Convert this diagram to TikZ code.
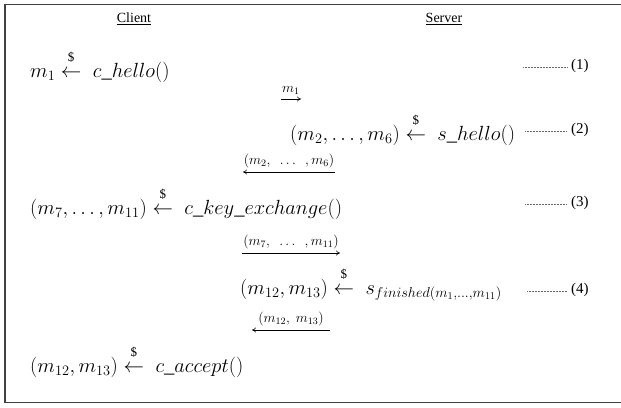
\RequirePackage{fix-cm}
\documentclass[tikz,border=0pt]{standalone}
\usepackage{amsmath}
\usepackage{fontspec}
\setmainfont{Liberation Serif}
\usetikzlibrary{arrows.meta}
\newcommand{\rnd}{\mathrel{\overset{\raisebox{4pt}{\fontsize{13}{13}\selectfont\$}}{\leftarrow}\;}}
\begin{document}
\begin{tikzpicture}[x=1pt,y=-1pt,
  formula/.style={anchor=base west, inner sep=0pt, font=\fontsize{20.5}{24}\selectfont},
  msg/.style={inner sep=0pt, font=\fontsize{14}{16}\selectfont},
  hdr/.style={inner sep=0pt, font=\fontsize{14}{16}\selectfont},
  num/.style={anchor=west, inner sep=0pt, font=\fontsize{15}{17}\selectfont},
  leader/.style={dash pattern=on 0.5pt off 1pt, line width=0.6pt, black!60},
  flow/.style={-{To[length=4pt,width=5pt]}, line width=0.6pt},
  frame/.style={line width=1.4pt, black!75}]
\useasboundingbox (0,0) rectangle (621,407);
\draw[frame] (621,4.5) -- (5,4.5) -- (5,402.5) -- (621,402.5);

\node[hdr] (client) at (134,19) {\underline{Client}};
\node[hdr] (server) at (444,19) {\underline{Server}};

\node[formula] (r1) at (30,77) {$m_1 \rnd c\_hello()$};
\node[formula] (r2) at (290,140) {$(m_2, \ldots , m_6) \rnd s\_hello()$};
\node[formula] (r3) at (30,214) {$(m_7, \ldots , m_{11}) \rnd c\_key\_exchange()$};
\node[formula] (r4) at (240,294) {$(m_{12}, m_{13}) \rnd s_{finished(m_1,\ldots,m_{11})}$};
\node[formula] (r5) at (30,372) {$(m_{12},m_{13}) \rnd c\_accept()$};

\node[num] (n1) at (571,66) {(1)};
\node[num] (n2) at (571,130) {(2)};
\node[num] (n3) at (571,203) {(3)};
\node[num] (n4) at (571,290) {(4)};
\coordinate (d1) at (523,67);
\coordinate (d2) at (525,131);
\coordinate (d3) at (525,204);
\coordinate (d4) at (527,291);
\draw[leader] (d1) -- ([xshift=-4pt]d1 -| n1.west);
\draw[leader] (d2) -- ([xshift=-4pt]d2 -| n2.west);
\draw[leader] (d3) -- ([xshift=-4pt]d3 -| n3.west);
\draw[leader] (d4) -- ([xshift=-4pt]d4 -| n4.west);

\coordinate (a1s) at (281,99);
\coordinate (a1e) at (301,99);
\draw[flow] (a1s) -- node[msg, above=4pt] (l1) {$m_1$} (a1e);

\coordinate (a2s) at (335,172);
\coordinate (a2e) at (243,172);
\draw[flow] (a2s) -- node[msg, above=4pt] (l2) {$(m_2,\ \ \ldots\ \ ,m_6)$} (a2e);

\coordinate (a3s) at (242,253);
\coordinate (a3e) at (340,253);
\draw[flow] (a3s) -- node[msg, above=4pt] (l3) {$(m_7,\ \ \ldots\ \ ,m_{11})$} (a3e);

\coordinate (a4s) at (330,330);
\coordinate (a4e) at (252,330);
\draw[flow] (a4s) -- node[msg, above=4pt] (l4) {$(m_{12},\ m_{13})$} (a4e);
\end{tikzpicture}
\end{document}
